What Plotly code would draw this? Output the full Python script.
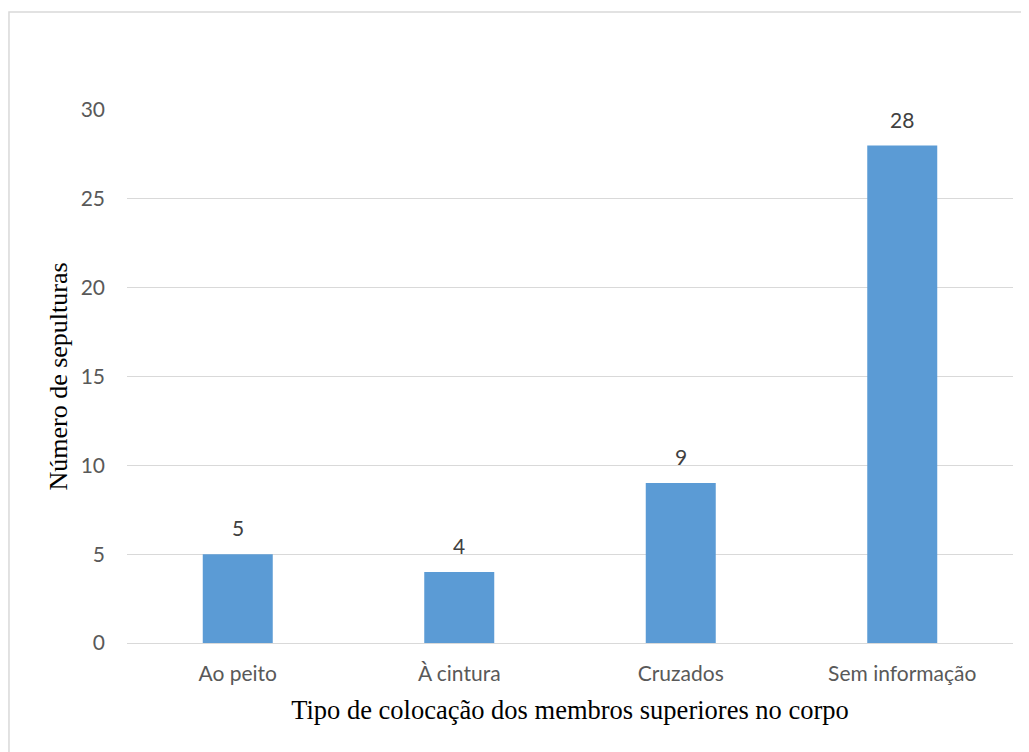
import plotly.graph_objects as go

categories = ["Ao peito", "À cintura", "Cruzados", "Sem informação"]
values = [5, 4, 9, 28]
y_ticks = [0, 5, 10, 15, 20, 25, 30]

SANS = "Lato, Noto Sans, sans-serif"
SERIF = "Liberation Serif, Times New Roman, serif"

fig = go.Figure()
fig.add_trace(go.Bar(
    x=categories, y=values,
    marker=dict(color="#5B9BD5", line=dict(width=0)),
    hoverinfo="skip",
))

annotations = [
    dict(x=c, y=v, xref="x", yref="y", text=str(v), showarrow=False,
         yanchor="bottom", yshift=12,
         font=dict(family=SANS, size=21, color="#404040"))
    for c, v in zip(categories, values)
]

fig.update_layout(
    width=1029, height=752,
    margin=dict(l=119, r=24, t=102, b=117),
    paper_bgcolor="white", plot_bgcolor="white",
    bargap=0.684,
    showlegend=False,
    annotations=annotations,
    xaxis=dict(
        showgrid=False, showline=False, ticks="", automargin=False,
        ticklabelstandoff=16,
        tickfont=dict(family=SANS, size=21, color="#595959"),
        title=dict(text="Tipo de colocação dos membros superiores no corpo",
                   font=dict(family=SERIF, size=26.5, color="black"),
                   standoff=16),
    ),
    yaxis=dict(
        range=[0, 30], tickvals=y_ticks, automargin=False,
        showgrid=True, gridcolor="#D9D9D9", gridwidth=1,
        zeroline=True, zerolinecolor="#D9D9D9", zerolinewidth=1,
        showline=False, ticks="",
        ticklabelstandoff=21,
        tickfont=dict(family=SANS, size=21, color="#595959"),
        title=dict(text="Número de sepulturas",
                   font=dict(family=SERIF, size=26, color="black"),
                   standoff=5),
    ),
    shapes=[dict(type="rect", xref="paper", yref="paper",
                 x0=-0.1332, x1=1.05, y0=-0.25, y1=1.184,
                 line=dict(color="#D9D9D9", width=1.5), fillcolor="rgba(0,0,0,0)", layer="below")],
)

fig.write_html("out.html")
